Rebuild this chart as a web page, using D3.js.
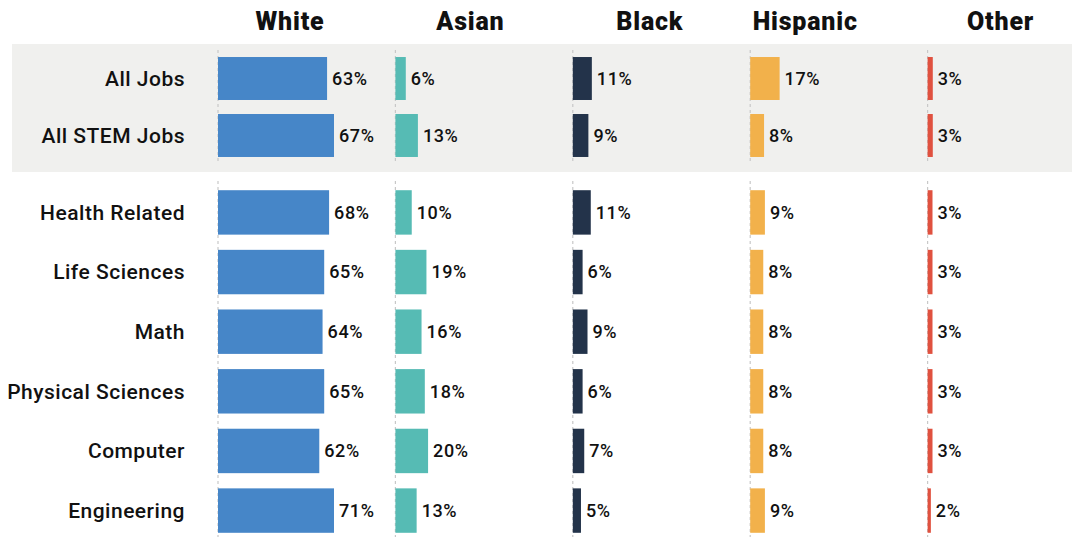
<!DOCTYPE html>
<html>
<head>
<meta charset="utf-8">
<script src="https://cdn.jsdelivr.net/npm/d3@7"></script>
<style>
  body { margin: 0; background: #fff; }
  svg { display: block; font-family: Roboto, "Noto Sans", sans-serif; }
</style>
</head>
<body>
<svg id="chart" width="1072" height="537"></svg>
<script>
// data
var groups = ["White", "Asian", "Black", "Hispanic", "Other"];
var topRows = ["All Jobs", "All STEM Jobs"];
var bottomRows = ["Health Related", "Life Sciences", "Math", "Physical Sciences", "Computer", "Engineering"];

var white    = [63, 67, 68, 65, 64, 65, 62, 71];
var asian    = [6, 13, 10, 19, 16, 18, 20, 13];
var black    = [11, 9, 11, 6, 9, 6, 7, 5];
var hispanic = [17, 8, 9, 8, 8, 8, 8, 9];
var other    = [3, 3, 3, 3, 3, 3, 3, 2];

var palette = ["#4686c8", "#56bbb4", "#23334a", "#f2b14b", "#e0513f"];
var headerOffset = [72, 75, 77, 55, 73];

var series = [white, asian, black, hispanic, other];
var allRows = topRows.concat(bottomRows);

var svg = d3.select("#chart");

var panelX = d3.scaleBand().domain(groups).range([218, 1105]).paddingInner(0).paddingOuter(0);

var yTop = d3.scaleBand().domain(topRows).range([43, 171]).paddingInner(0.246).paddingOuter(0.246);
var yBottom = d3.scaleBand().domain(bottomRows).range([175, 548]).paddingInner(0.255).paddingOuter(0.255);

// bar length scale per block: the block max fills 116px
var topMax = d3.max(series, function(s) { return d3.max(s.slice(0, 2)); });
var bottomMax = d3.max(series, function(s) { return d3.max(s.slice(2)); });
var xTop = d3.scaleLinear().domain([0, topMax]).range([0, 116]);
var xBottom = d3.scaleLinear().domain([0, bottomMax]).range([0, 116]);

// gray background behind the summary rows
svg.append("rect")
   .attr("x", 12).attr("y", 44)
   .attr("width", 1060).attr("height", 128)
   .attr("fill", "#f0f0ee");

// headers
svg.selectAll("text.header")
   .data(groups)
   .enter().append("text")
   .attr("class", "header")
   .attr("x", function(d, i) { return panelX(d) + headerOffset[i]; })
   .attr("y", 30)
   .attr("text-anchor", "middle")
   .style("font-weight", 900)
   .style("font-size", "25px")
   .style("letter-spacing", "0.8px")
   .attr("fill", "#111")
   .text(function(d) { return d; });

// row labels
svg.selectAll("text.rowlabel")
   .data(allRows)
   .enter().append("text")
   .attr("class", "rowlabel")
   .attr("x", 185)
   .attr("y", function(d, i) {
       return i < 2 ? yTop(d) + yTop.bandwidth() / 2 : yBottom(d) + yBottom.bandwidth() / 2;
   })
   .attr("dy", "0.35em")
   .attr("text-anchor", "end")
   .style("font-weight", 500)
   .style("font-size", "21px")
   .style("letter-spacing", "0.5px")
   .attr("fill", "#111")
   .text(function(d) { return d; });

groups.forEach(function(g, gi) {
   var x0 = panelX(g);
   var panel = svg.append("g").attr("transform", "translate(" + x0 + ",0)");

   // dashed baselines
   [[50, 164], [181, 537]].forEach(function(seg) {
       panel.append("line")
          .attr("x1", 0).attr("x2", 0)
          .attr("y1", seg[0]).attr("y2", seg[1])
          .attr("stroke", "#c8c8c8")
          .attr("stroke-width", 1.2)
          .attr("stroke-dasharray", "3,3");
   });

   var rows = allRows.map(function(r, i) {
       var isTop = i < 2;
       return {
           label: r,
           value: series[gi][i],
           y: isTop ? yTop(r) : yBottom(r),
           h: isTop ? yTop.bandwidth() : yBottom.bandwidth(),
           w: isTop ? xTop(series[gi][i]) : xBottom(series[gi][i])
       };
   });

   panel.selectAll("rect.bar")
      .data(rows)
      .enter().append("rect")
      .attr("class", "bar")
      .attr("x", 0)
      .attr("y", function(d) { return d.y; })
      .attr("width", function(d) { return d.w; })
      .attr("height", function(d) { return d.h; })
      .attr("fill", palette[gi]);

   panel.selectAll("text.value")
      .data(rows)
      .enter().append("text")
      .attr("class", "value")
      .attr("x", function(d) { return d.w + 5; })
      .attr("y", function(d) { return d.y + d.h / 2; })
      .attr("dy", "0.35em")
      .style("font-weight", 500)
      .style("font-size", "18px")
      .style("letter-spacing", "0.6px")
      .attr("fill", "#111")
      .text(function(d) { return d.value + "%"; });
});
</script>
</body>
</html>
